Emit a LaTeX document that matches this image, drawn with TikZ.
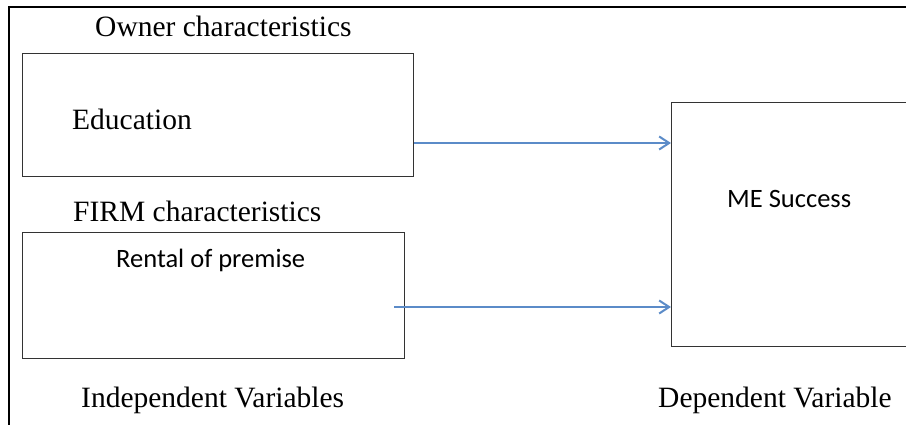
\documentclass[tikz,border=0pt]{standalone}
\usepackage{fontspec}
\setmainfont{Liberation Serif}
\newfontfamily\calfont{Carlito}
\usetikzlibrary{arrows.meta}
\definecolor{arrowblue}{HTML}{5B8BC8}
\definecolor{boxgray}{HTML}{333333}
\begin{document}
\begin{tikzpicture}[x=1pt,y=-1pt,
  boxshape/.style={draw=boxgray,line width=1.3pt,rectangle,inner sep=0pt,anchor=north west},
  tnr/.style={font=\fontsize{29.5}{34}\selectfont,inner sep=0pt,anchor=base west},
  cal/.style={font=\calfont\fontsize{26.5}{31}\selectfont,inner sep=0pt,anchor=base west},
  conn/.style={draw=arrowblue,line width=2.2pt,-{Straight Barb[length=10pt,width=13pt,line width=2pt]}}]
\useasboundingbox (0,0) rectangle (906,425);
% frame
\draw[line width=1.3pt,black] (9,425) -- (9,7) -- (906,7);
% boxes
\node[boxshape,minimum width=391pt,minimum height=123pt] (edu) at (22,53) {};
\node[boxshape,minimum width=382pt,minimum height=126pt] (rent) at (22,232) {};
\node[boxshape,minimum width=300pt,minimum height=244pt] (me) at (671,102) {};
% texts
\node[tnr] (owner) at (95,37) {Owner characteristics};
\node[tnr] (edut) at (72,130) {Education};
\node[tnr] (firm) at (73,222) {FIRM characteristics};
\node[cal] (rentt) at (116,268) {Rental of premise};
\node[cal] (met) at (727,208) {ME Success};
\node[tnr] (indep) at (81,407) {Independent Variables};
\node[tnr] (dep) at (658,407) {Dependent Variable};
% connectors
\coordinate (s1) at (edu.east |- 0,143);
\coordinate (s2) at (394,307);
\draw[conn] (s1) -- (me.west |- s1);
\draw[conn] (s2) -- (me.west |- s2);
\end{tikzpicture}
\end{document}
